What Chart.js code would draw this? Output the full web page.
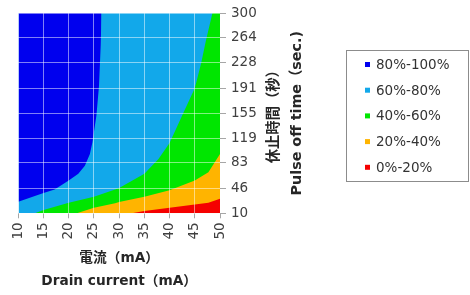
<!DOCTYPE html>
<html><head><meta charset="utf-8">
<script src="https://cdn.jsdelivr.net/npm/chart.js@4/dist/chart.umd.min.js"></script>
<style>html,body{margin:0;padding:0;background:#fff;}#wrap{width:470px;height:295px;}</style>
</head><body><div id="wrap"><canvas id="c" width="470" height="295"></canvas></div>
<script>
// Axis ticks
const currentTicks = [10, 15, 20, 25, 30, 35, 40, 45, 50];          // 電流 (mA)
const offTimeTicks = [10, 46, 83, 119, 155, 191, 228, 264, 300];   // 休止時間 (秒)
const bandLabels = ['80%-100%', '60%-80%', '40%-60%', '20%-40%', '0%-20%'];

// Contour boundaries (x = drain current, y = pulse off time)
const edge80X = [10, 15, 17.2, 20, 21.9, 23.2, 24.2, 24.7, 25.5, 26.0, 26.35, 26.5];
const edge80Y = [26.6, 39.5, 44.3, 57.6, 67.2, 79, 96, 113, 152, 194, 254, 300];
const edgeTopX = [10, 50];
const edgeTopY = [300, 300];
const edge60X = [13.3, 15, 20, 25, 29.2, 30, 35, 37.8, 40, 42.7, 45, 46.25, 47.2, 48.5, 50];
const edge60Y = [10, 14.7, 25.2, 33.8, 44.3, 46.6, 67.2, 88.7, 112, 155, 191, 227, 260, 300, 300];
const edge40X = [21.6, 25, 29.2, 30, 35, 40, 45, 47.7, 50];
const edge40Y = [10, 18, 24.5, 26.5, 33.8, 43.3, 57.6, 69.5, 96];
const edge20X = [32.5, 35, 40, 45, 47.7, 50];
const edge20Y = [10, 13.3, 18, 22.8, 25.2, 31];

const bandColors = ['#0000EE', '#12A8EA', '#00E600', '#FFB400', '#F50000'];
const FONT = '"DejaVu Sans", "Noto Sans CJK JP", sans-serif';

const pts = (xs, ys) => xs.map((x, i) => ({x, y: ys[i]}));

const bandEdges = [
  {x: edge80X, y: edge80Y, fill: 'end', order: 4},
  {x: edgeTopX, y: edgeTopY, fill: 'start', order: 5},
  {x: edge60X, y: edge60Y, fill: 'start', order: 3},
  {x: edge40X, y: edge40Y, fill: 'start', order: 2},
  {x: edge20X, y: edge20Y, fill: 'start', order: 1}
];

const datasets = bandEdges.map((e, i) => ({
  label: bandLabels[i],
  data: pts(e.x, e.y),
  fill: e.fill,
  order: e.order,
  backgroundColor: bandColors[i],
  borderColor: bandColors[i],
  borderWidth: 0,
  pointRadius: 0,
  tension: 0
}));

const overlay = {
  id: 'overlay',
  afterDraw(chart) {
    const ctx = chart.ctx;
    const ca = chart.chartArea;
    const cy = (ca.top + ca.bottom) / 2;
    ctx.save();
    ctx.fillStyle = '#262626';
    ctx.font = 'bold 14.3px ' + FONT;
    ctx.textAlign = 'center';
    ctx.textBaseline = 'middle';
    [['休止時間（秒）', 274], ['Pulse off time（sec.)', 297]].forEach(([t, x]) => {
      ctx.save();
      ctx.translate(x, cy);
      ctx.rotate(-Math.PI / 2);
      ctx.fillText(t, 0, 0);
      ctx.restore();
    });
    // legend
    ctx.strokeStyle = '#8c8c8c';
    ctx.lineWidth = 1;
    ctx.strokeRect(346.5, 50.5, 122, 131);
    ctx.font = '13.5px ' + FONT;
    ctx.textAlign = 'left';
    bandLabels.forEach((lab, i) => {
      const y = 65 + i * 25.7;
      ctx.fillStyle = bandColors[i];
      ctx.fillRect(365, y - 3, 5, 5);
      ctx.fillStyle = '#333333';
      ctx.fillText(lab, 376, y + 0.5);
    });
    ctx.restore();
  }
};

new Chart(document.getElementById('c'), {
  type: 'line',
  data: {datasets},
  plugins: [overlay],
  options: {
    responsive: false,
    animation: false,
    devicePixelRatio: 1,
    layout: {padding: {left: 18.3, top: 10.5, right: 210, bottom: 0}},
    plugins: {legend: {display: false}, tooltip: {enabled: false}},
    scales: {
      x: {
        type: 'linear', min: 10, max: 50,
        afterBuildTicks(s) { s.ticks = currentTicks.map(v => ({value: v})); },
        afterFit(s) { s.height = 295 - 213.3; },
        ticks: {autoSkip: false, minRotation: 90, maxRotation: 90, padding: 4,
                color: '#404040', font: {family: FONT, size: 13.5},
                callback: (v) => String(v)},
        grid: {z: 1, color: 'rgba(255,255,255,0.5)', tickColor: '#a6a6a6', tickLength: 5, lineWidth: 1},
        border: {display: false},
        title: {display: true, text: ['電流（mA）', 'Drain current（mA）'], color: '#262626',
                font: {family: FONT, size: 13.7, weight: 'bold', lineHeight: 1.68},
                padding: {top: 0, bottom: 2.5}}
      },
      y: {
        type: 'linear', position: 'right', min: 10, max: 300,
        afterBuildTicks(s) { s.ticks = offTimeTicks.map(v => ({value: v})); },
        afterFit(s) { s.width = 40; },
        ticks: {padding: 5, color: '#404040', font: {family: FONT, size: 13.5},
                callback: (v) => String(v)},
        grid: {z: 1, color: 'rgba(255,255,255,0.5)', tickColor: '#a6a6a6', tickLength: 6, lineWidth: 1},
        border: {display: false}
      }
    }
  }
});
</script></body></html>
